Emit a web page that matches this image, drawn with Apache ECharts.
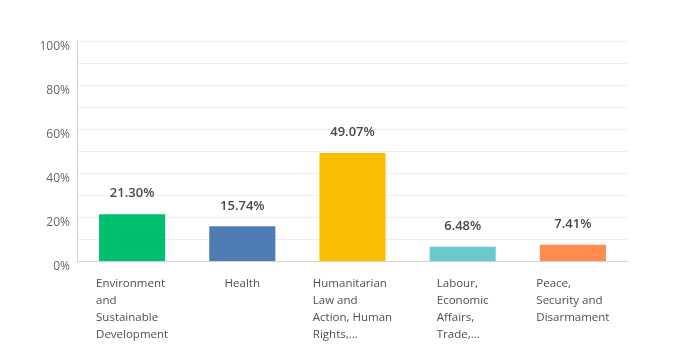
<!DOCTYPE html>
<html>
<head>
<meta charset="utf-8">
<script src="https://cdn.jsdelivr.net/npm/echarts@6/dist/echarts.min.js"></script>
<style>
  html, body { margin: 0; padding: 0; background: #ffffff; }
  #chart { width: 692px; height: 351px; }
</style>
</head>
<body>
<div id="chart"></div>
<script>
// categories (line breaks as shown under the bars)
const categories = [
  'Environment\nand\nSustainable\nDevelopment',
  'Health',
  'Humanitarian\nLaw and\nAction, Human\nRights,...',
  'Labour,\nEconomic\nAffairs,\nTrade,...',
  'Peace,\nSecurity and\nDisarmament'
]
const values = [21.30, 15.74, 49.07, 6.48, 7.41]
const barColors = ['#00bf6f', '#507cb6', '#f9be00', '#6bc8cd', '#ff8b4f']

const chart = echarts.init(document.getElementById('chart'))

const option = {
  animation: false,
  textStyle: { fontFamily: 'Open Sans' },
  grid: {
    left: 77,
    right: 64,
    top: 41,
    bottom: 90
  },
  xAxis: {
    type: 'category',
    data: categories,
    axisTick: { show: false },
    axisLine: { lineStyle: { color: '#d3d3d3', width: 1 } },
    axisLabel: {
      interval: 0,
      margin: 14,
      align: 'center',
      formatter: function (v) {
        return v.split('\n').map(s => '{a|' + s + '}').join('\n')
      },
      rich: {
        a: {
          align: 'left',
          fontFamily: 'Open Sans',
          fontSize: 11.5,
          lineHeight: 17,
          color: '#4f4f4f'
        }
      }
    }
  },
  yAxis: {
    type: 'value',
    min: 0,
    max: 100,
    interval: 10,
    axisLine: { show: true, lineStyle: { color: '#d3d3d3', width: 1 } },
    axisTick: { show: false },
    splitLine: { lineStyle: { color: '#eeeeee', width: 1 } },
    axisLabel: {
      margin: 7,
      fontSize: 12,
      color: '#666666',
      verticalAlign: 'top',
      formatter: function (v) {
        return v % 20 === 0 ? v + '%' : ''
      }
    }
  },
  series: [
    {
      type: 'bar',
      barWidth: '60%',
      data: values.map((v, i) => ({ value: v, itemStyle: { color: barColors[i] } })),
      label: {
        show: true,
        position: 'top',
        distance: 14,
        fontFamily: 'Open Sans',
        fontSize: 13,
        fontWeight: 600,
        color: '#4a4a4a',
        formatter: function (p) {
          return p.value.toFixed(2) + '%'
        }
      }
    }
  ]
}

chart.setOption(option)
window.addEventListener('resize', () => {
  chart.resize()
})
</script>
</body>
</html>
